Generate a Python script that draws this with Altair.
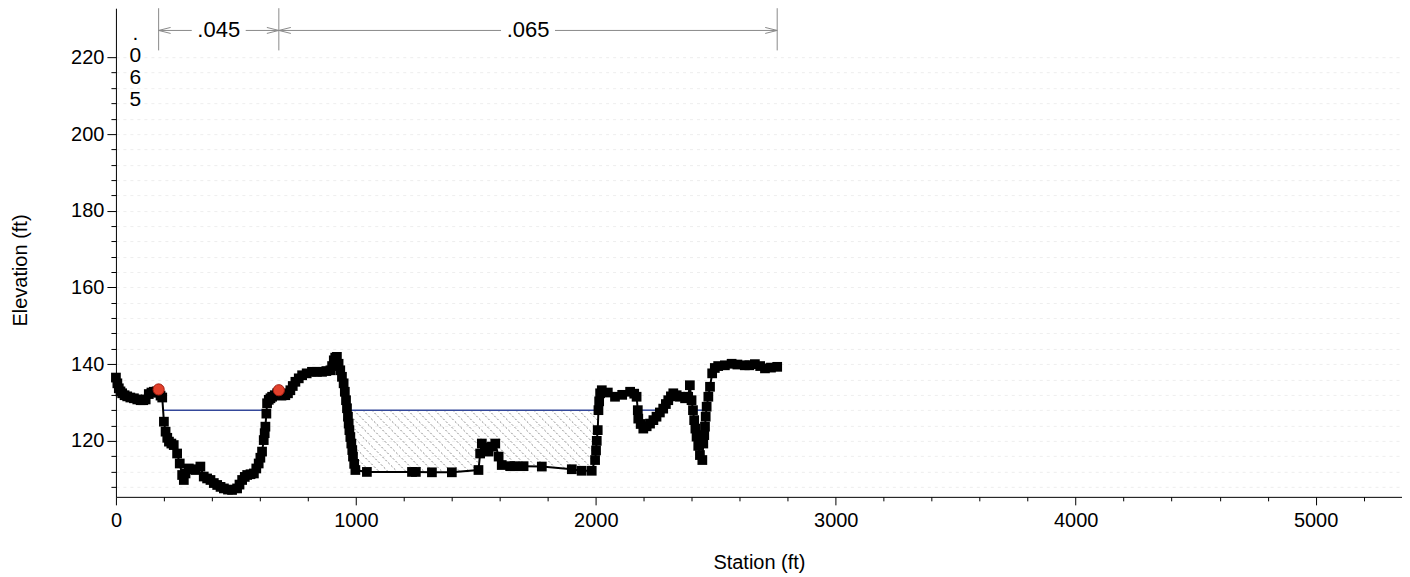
import altair as alt
import pandas as pd
import numpy as np

# ---------------- data ----------------
station = [0, 6, 12, 19, 26, 36, 47, 60, 75, 89, 103, 114, 124, 137, 148, 158, 170, 178, 186, 193,
           200, 207, 214, 221, 231, 241, 255, 266, 276, 283, 290, 304, 318, 332, 352, 366, 380, 394,
           408, 422, 436, 450, 467, 484, 505, 515, 526, 537, 547, 561, 575, 585, 595, 602, 609, 616,
           620, 623, 627, 630, 637, 644, 651, 662, 672, 679, 690, 706, 717, 727, 737, 748, 762, 776,
           795, 817, 838, 859, 877, 894, 901, 908, 914, 921, 928, 935, 942, 949, 954, 959, 963, 967,
           970, 973, 977, 981, 985, 988, 993, 998, 1046, 1234, 1250, 1317, 1400, 1511, 1518, 1525,
           1540, 1553, 1567, 1581, 1595, 1608, 1643, 1661, 1699, 1775, 1900, 1941, 1983, 1997, 2001,
           2004, 2008, 2011, 2014, 2018, 2025, 2050, 2080, 2110, 2143, 2160, 2170, 2175, 2177, 2187,
           2198, 2212, 2226, 2240, 2253, 2267, 2281, 2292, 2302, 2313, 2323, 2337, 2351, 2372, 2385,
           2392, 2399, 2405, 2410, 2415, 2420, 2427, 2434, 2444, 2448, 2452, 2455, 2458, 2462, 2469,
           2476, 2485, 2496, 2510, 2538, 2566, 2590, 2621, 2640, 2663, 2685, 2705, 2730, 2756]
elevation = [136.5, 135.0, 133.7, 132.9, 132.4, 131.9, 131.6, 131.3, 131.1, 130.8, 130.6, 130.6, 130.8,
             132.2, 132.6, 132.8, 132.9, 132.6, 131.8, 131.3,
             125.0, 122.4, 120.8, 119.8, 119.3, 118.9, 116.7, 114.1, 111.1, 109.8, 111.5, 112.8, 112.6,
             112.4, 113.3, 110.7, 110.2, 109.8, 109.0, 108.5, 108.0, 107.6, 107.3, 107.2, 107.6, 108.6,
             109.8, 110.6, 111.1, 111.3, 111.5, 112.8, 114.1, 115.6, 117.2, 120.2,
             122.0, 123.7, 127.1, 129.8, 130.7, 131.1, 131.5, 131.9, 132.4, 132.6, 131.8, 131.9, 132.4,
             133.2, 134.3, 135.4, 136.3, 137.1,
             137.6, 138.0, 138.0, 138.0, 138.2, 138.4, 139.5, 141.0, 141.7, 141.9, 140.1, 138.4, 136.7,
             135.0, 132.8, 130.6, 128.5, 126.3,
             124.5, 122.8, 121.0, 119.3, 117.6, 115.9, 114.0, 112.4, 111.9, 111.9, 111.9, 111.8, 111.8,
             112.4, 116.7, 119.3,
             118.3, 117.2, 118.5, 119.3, 115.9, 113.7, 113.4, 113.4, 113.4, 113.3, 112.6, 112.2, 112.2,
             115.0, 117.5,
             120.0, 122.8, 128.0, 130.3, 132.4, 133.2, 132.6, 131.5, 132.0, 132.8, 132.3, 131.5, 128.0,
             125.8, 124.4,
             123.2, 123.8, 124.5, 125.4, 126.3, 127.4, 128.4, 129.6, 130.6, 131.6, 132.4, 131.9, 131.5,
             131.1, 131.5,
             134.5, 130.6, 128.0, 125.4, 123.2, 121.1, 118.7, 116.3, 115.0, 119.3, 121.5, 123.7, 126.3,
             128.9, 131.5,
             134.1, 137.6, 139.0, 139.5, 139.7, 140.1, 139.9, 139.7, 139.7, 140.0, 139.5, 138.9, 139.1,
             139.3]

bank_sta = [178, 679]
bank_elev = [133.4, 133.2]
ws_elev = 128.0
n_labels = [".065", ".045", ".065"]
n_breaks = [0, 178, 679, 2756]
ineff_range = [940, 2030]
x_ticks = list(range(0, 5201, 200))
y_ticks = list(range(108, 221, 4))

X_DOM = [0, 5360]
Y_DOM = [105.4, 232.8]
W, H = 1287, 489
FONT = "Liberation Sans"

# ---------------- derived tables ----------------
ground = pd.DataFrame({"sta": station, "elev": elevation})
banks = pd.DataFrame({"sta": bank_sta, "elev": bank_elev})

gs = np.array(station, float)
ge = np.array(elevation, float)

# water surface where ground lies below it
s_all = np.arange(gs[0], gs[-1], 0.5)
wet = np.interp(s_all, gs, ge) < ws_elev
ws_rows = []
i = 0
while i < len(s_all):
    if wet[i]:
        j = i
        while j + 1 < len(s_all) and wet[j + 1]:
            j += 1
        ws_rows.append({"s0": s_all[i], "s1": s_all[j], "wy": ws_elev})
        i = j + 1
    else:
        i += 1
ws_df = pd.DataFrame(ws_rows)

# hatch (ineffective area) clipped between water surface and ground
pxx = W / (X_DOM[1] - X_DOM[0])
pxy = H / (Y_DOM[1] - Y_DOM[0])
k = pxx / pxy
spacing = 9 / pxx
span = (ws_elev - Y_DOM[0]) / k
hatch_rows = []
c = ineff_range[0] - span
while c < ineff_range[1]:
    s = np.arange(max(c, ineff_range[0]), min(c + span, ineff_range[1]), 0.5)
    if len(s) > 1:
        le = ws_elev - k * (s - c)
        inside = le > np.interp(s, gs, ge)
        a = 0
        while a < len(s):
            if inside[a]:
                b = a
                while b + 1 < len(s) and inside[b + 1]:
                    b += 1
                if b > a:
                    hatch_rows.append({"h0": s[a], "h1": s[b], "e0": le[a], "e1": le[b]})
                a = b + 1
            else:
                a += 1
    c += spacing
hatch_df = pd.DataFrame(hatch_rows)

# Manning's n annotation
gap = 27 / pxx
arrow_y = 227.0
tick_rows, seg_rows, head_l, head_r, text_rows = [], [], [], [], []
for bsta in n_breaks[1:]:
    tick_rows.append({"t": bsta, "t0": 221.8, "t1": Y_DOM[1]})
for idx in range(1, len(n_labels)):
    a, b = n_breaks[idx], n_breaks[idx + 1]
    mid = (a + b) / 2
    seg_rows.append({"a0": a, "a1": mid - gap, "ay": arrow_y})
    seg_rows.append({"a0": mid + gap, "a1": b, "ay": arrow_y})
    head_l.append({"hx": a, "hy": arrow_y})
    head_r.append({"hx": b, "hy": arrow_y})
    text_rows.append({"tx": mid, "ty": arrow_y, "lab": n_labels[idx]})
vert_df = pd.DataFrame([{"tx": (n_breaks[0] + n_breaks[1]) / 2 - 8, "ty": 224.6,
                         "lab": "\n".join(list(n_labels[0]))}])

xs = alt.Scale(domain=X_DOM, nice=False, zero=False)
ys = alt.Scale(domain=Y_DOM, nice=False, zero=False)

x_axis = alt.Axis(values=x_ticks, format="d",
                  labelExpr="datum.value % 1000 === 0 ? datum.label : ''",
                  tickSize={"condition": {"test": "datum.value % 1000 === 0", "value": 8}, "value": 4},
                  labelFlush=False, labelOverlap=False, grid=False,
                  domainColor="black", tickColor="black", labelColor="black",
                  labelFont=FONT, labelFontSize=20, labelPadding=6,
                  titleFont=FONT, titleFontSize=20, titleFontWeight="normal", titleColor="black",
                  titleY=66, titleBaseline="middle")
y_axis = alt.Axis(values=y_ticks, format="d",
                  labelExpr="datum.value % 20 === 0 ? datum.label : ''",
                  tickSize={"condition": {"test": "datum.value % 20 === 0", "value": 9}, "value": 5},
                  labelFlush=False, labelOverlap=False,
                  grid=True, gridColor="#dadada", gridDash=[3, 4], gridOpacity=0.45,
                  domainColor="black", tickColor="black", labelColor="black",
                  labelFont=FONT, labelFontSize=20, labelPadding=3,
                  titleFont=FONT, titleFontSize=20, titleFontWeight="normal", titleColor="black",
                  titleX=-95, titleY=262, titleBaseline="middle", titleAlign="center", titleAngle=-90)


def X(field):
    return alt.X(field, scale=xs, axis=x_axis, title="Station (ft)")


def Y(field):
    return alt.Y(field, scale=ys, axis=y_axis, title="Elevation (ft)")


hatch = alt.Chart(hatch_df).mark_rule(color="#7a7a7a", strokeWidth=0.9, strokeDash=[2, 2]).encode(
    x=X("h0:Q"), x2="h1:Q", y=Y("e0:Q"), y2="e1:Q")

ws = alt.Chart(ws_df).mark_rule(color="#34489a", strokeWidth=1.5).encode(
    x=X("s0:Q"), x2="s1:Q", y=Y("wy:Q"))

gline = alt.Chart(ground).mark_line(color="black", strokeWidth=2).encode(
    x=X("sta:Q"), y=Y("elev:Q"), order="sta:Q")
gpts = alt.Chart(ground).mark_point(shape="square", filled=True, size=95, color="black",
                                    opacity=1).encode(x=X("sta:Q"), y=Y("elev:Q"))
bank_pts = alt.Chart(banks).mark_point(shape="circle", filled=True, size=125, fill="#e2402b",
                                       stroke="#a01c10", strokeWidth=1, opacity=1).encode(
    x=X("sta:Q"), y=Y("elev:Q"))

nticks = alt.Chart(pd.DataFrame(tick_rows)).mark_rule(color="#8a8a8a", strokeWidth=1).encode(
    x=X("t:Q"), y=Y("t0:Q"), y2="t1:Q")
nsegs = alt.Chart(pd.DataFrame(seg_rows)).mark_rule(color="#8a8a8a", strokeWidth=1).encode(
    x=X("a0:Q"), x2="a1:Q", y=Y("ay:Q"))
hl = alt.Chart(pd.DataFrame(head_l)).mark_point(shape="M0,0L3,-0.75M0,0L3,0.75", size=64,
                                                filled=False, color="#8a8a8a", strokeWidth=1,
                                                opacity=1).encode(x=X("hx:Q"), y=Y("hy:Q"))
hr = alt.Chart(pd.DataFrame(head_r)).mark_point(shape="M0,0L-3,-0.75M0,0L-3,0.75", size=64,
                                                filled=False, color="#8a8a8a", strokeWidth=1,
                                                opacity=1).encode(x=X("hx:Q"), y=Y("hy:Q"))
ntext = alt.Chart(pd.DataFrame(text_rows)).mark_text(font=FONT, fontSize=22, color="black",
                                                     baseline="middle", align="center").encode(
    x=X("tx:Q"), y=Y("ty:Q"), text="lab:N")
vtext = alt.Chart(vert_df).mark_text(font=FONT, fontSize=21, color="black", baseline="alphabetic",
                                     align="center", lineBreak="\n", lineHeight=22).encode(
    x=X("tx:Q"), y=Y("ty:Q"), text="lab:N")

chart = alt.layer(hatch, ws, gline, gpts, bank_pts, nticks, nsegs, hl, hr, ntext, vtext).properties(
    width=W, height=H,
    autosize=alt.AutoSizeParams(type="none"),
    padding={"left": 108, "top": 0, "right": 0, "bottom": 80},
    background="white",
).configure_view(strokeWidth=0)

chart.save("out.html", embed_options={"renderer": "svg", "actions": False})
